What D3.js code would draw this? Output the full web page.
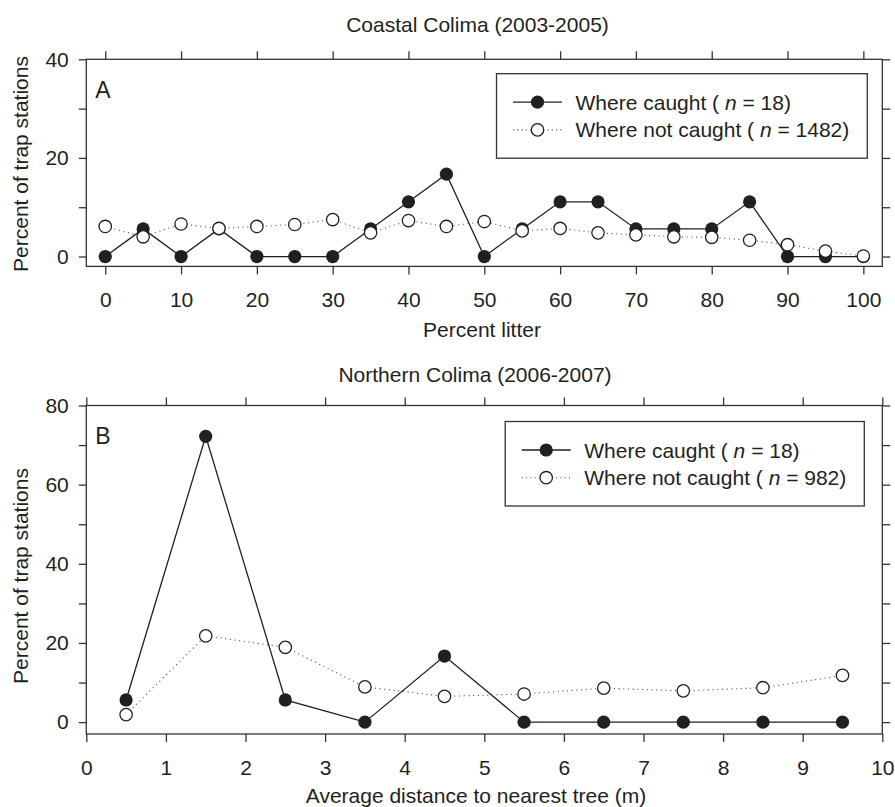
<!DOCTYPE html>
<html>
<head>
<meta charset="utf-8">
<script src="https://cdn.jsdelivr.net/npm/d3@7"></script>
<style>
  body { margin: 0; background: #fff; }
  svg { display: block; font-family: "Liberation Sans", Arial, Helvetica, sans-serif; }
</style>
</head>
<body>
<svg id="chart" width="895" height="807"></svg>
<script>
// panel A : percent litter
const litter = [0, 5, 10, 15, 20, 25, 30, 35, 40, 45, 50, 55, 60, 65, 70, 75, 80, 85, 90, 95, 100];
const litterCaught = [0, 5.6, 0, 5.6, 0, 0, 0, 5.6, 11.1, 16.7, 0, 5.6, 11.1, 11.1, 5.6, 5.6, 5.6, 11.1, 0, 0, 0];
const litterNotCaught = [6.1, 4.0, 6.6, 5.7, 6.1, 6.5, 7.5, 4.8, 7.3, 6.1, 7.1, 5.2, 5.7, 4.8, 4.4, 4.0, 3.9, 3.3, 2.4, 1.1, 0.1];
const litterTicks = [0, 10, 20, 30, 40, 50, 60, 70, 80, 90, 100];
const litterYTicks = [0, 10, 20, 30, 40];

// panel B : distance to nearest tree
const distance = [0.5, 1.5, 2.5, 3.5, 4.5, 5.5, 6.5, 7.5, 8.5, 9.5];
const distCaught = [5.6, 72.2, 5.6, 0, 16.7, 0, 0, 0, 0, 0];
const distNotCaught = [1.9, 21.8, 18.9, 8.9, 6.5, 7.1, 8.6, 7.9, 8.7, 11.8];
const distTicks = [0, 1, 2, 3, 4, 5, 6, 7, 8, 9, 10];
const distYTicks = [0, 10, 20, 30, 40, 50, 60, 70, 80];

const svg = d3.select("#chart");
const ink = "#231f20";
const tickLen = 8;

function drawPanel(p) {
  const x = d3.scaleLinear().domain(p.xDomain).range([86.3, 882.3]);
  const y = d3.scaleLinear().domain(p.yDomain).range(p.yRange);
  const g = svg.append("g");
  const [x0, x1] = x.range();
  const [yb, yt] = y.range();

  const label = d => (d % 20 === 0 ? d : "");

  // bottom axis (labelled)
  g.append("g")
      .attr("transform", `translate(0,${yb})`)
      .call(d3.axisBottom(x).tickValues(p.xTicks).tickSize(tickLen).tickPadding(18).tickSizeOuter(0))
      .call(a => a.select(".domain").remove());
  // left axis
  g.append("g")
      .attr("transform", `translate(${x0},0)`)
      .call(d3.axisLeft(y).tickValues(p.yTicks).tickFormat(label).tickSize(7.5).tickPadding(10).tickSizeOuter(0))
      .call(a => a.select(".domain").remove());
  // top and right ticks, no labels
  g.append("g")
      .attr("transform", `translate(0,${yt})`)
      .call(d3.axisTop(x).tickValues(p.xTicks).tickFormat("").tickSize(tickLen).tickSizeOuter(0))
      .call(a => a.select(".domain").remove());
  g.append("g")
      .attr("transform", `translate(${x1},0)`)
      .call(d3.axisRight(y).tickValues(p.yTicks).tickFormat("").tickSize(tickLen).tickSizeOuter(0))
      .call(a => a.select(".domain").remove());

  g.selectAll(".tick line").attr("stroke", "#333").attr("stroke-width", 1.3);
  g.selectAll(".tick text").attr("fill", ink).attr("font-size", 21).attr("font-family", null);

  g.append("rect")
      .attr("x", x0).attr("y", yt)
      .attr("width", x1 - x0).attr("height", yb - yt)
      .attr("fill", "none").attr("stroke", "#333").attr("stroke-width", 1.3);

  // titles
  g.append("text").attr("x", p.titleX).attr("y", yt - p.titleGap)
      .attr("text-anchor", "middle").attr("font-size", 21).attr("fill", ink).text(p.title);
  g.append("text").attr("x", p.xLabelX).attr("y", yb + p.xLabelGap)
      .attr("text-anchor", "middle").attr("font-size", 21).attr("fill", ink).text(p.xLabel);
  g.append("text")
      .attr("transform", `translate(28,${p.yLabelY}) rotate(-90)`)
      .attr("text-anchor", "middle").attr("font-size", 21).attr("fill", ink)
      .text("Percent of trap stations");
  g.append("text").attr("x", x0 + 9).attr("y", yt + 38.5)
      .attr("font-size", 23).attr("fill", ink).text(p.letter);

  // series
  const line = d3.line().x(d => x(d[0])).y(d => y(d[1]));
  const caught = d3.zip(p.xs, p.caught);
  const notCaught = d3.zip(p.xs, p.notCaught);

  g.append("path").datum(caught).attr("d", line)
      .attr("fill", "none").attr("stroke", ink).attr("stroke-width", 1.3);
  g.append("g").selectAll("circle").data(caught).join("circle")
      .attr("cx", d => x(d[0])).attr("cy", d => y(d[1])).attr("r", 6.6)
      .attr("fill", ink);

  g.append("path").datum(notCaught).attr("d", line)
      .attr("fill", "none").attr("stroke", "#555").attr("stroke-width", 1.1)
      .attr("stroke-dasharray", "1.1 3.6");
  g.append("g").selectAll("circle").data(notCaught).join("circle")
      .attr("cx", d => x(d[0])).attr("cy", d => y(d[1])).attr("r", 6.2)
      .attr("fill", "#fff").attr("stroke", ink).attr("stroke-width", 1.3);

  // legend
  const leg = g.append("g");
  const rows = [
    {n: p.nCaught, text: "Where caught ( ", filled: true},
    {n: p.nNot, text: "Where not caught ( ", filled: false}
  ];
  const texts = rows.map((r, i) => {
    const t = leg.append("text").attr("x", 62.5).attr("y", 28.5 + i * 27.7 + 7.5)
        .attr("font-size", 21).attr("fill", ink);
    t.append("tspan").text(r.text);
    t.append("tspan").attr("font-style", "italic").text("n");
    t.append("tspan").text(" = " + r.n + ")");
    const cy = 28.5 + i * 27.7;
    leg.append("line").attr("x1", 0).attr("x2", 49).attr("y1", cy).attr("y2", cy)
        .attr("stroke", r.filled ? ink : "#555").attr("stroke-width", r.filled ? 1.3 : 1.1)
        .attr("stroke-dasharray", r.filled ? null : "1.1 3.2");
    leg.append("circle").attr("cx", 24.5).attr("cy", cy).attr("r", r.filled ? 6.6 : 6.2)
        .attr("fill", r.filled ? ink : "#fff")
        .attr("stroke", r.filled ? null : ink).attr("stroke-width", 1.3);
    return t.node().getComputedTextLength();
  });
  const w = 62.5 + d3.max(texts) + 18 + 16.5;
  leg.insert("rect", ":first-child")
      .attr("x", -16.5).attr("y", 0).attr("width", w).attr("height", 28.5 + 27.7 + 28.3)
      .attr("fill", "#fff").attr("stroke", "#333").attr("stroke-width", 1.3);
  leg.attr("transform", `translate(${x1 - p.legRight - w + 16.5},${yt + p.legTop})`);
}

drawPanel({
  letter: "A",
  title: "Coastal Colima (2003-2005)",
  xLabel: "Percent litter",
  xs: litter, caught: litterCaught, notCaught: litterNotCaught,
  xTicks: litterTicks, yTicks: litterYTicks,
  xDomain: [-2.5, 102.5], yDomain: [-2, 40], yRange: [266.4, 59.3],
  titleX: 477.5, titleGap: 27.5, xLabelX: 482, xLabelGap: 70.5, yLabelY: 164,
  nCaught: 18, nNot: 1482, legRight: 15, legTop: 14.4
});

drawPanel({
  letter: "B",
  title: "Northern Colima (2006-2007)",
  xLabel: "Average distance to nearest tree (m)",
  xs: distance, caught: distCaught, notCaught: distNotCaught,
  xTicks: distTicks, yTicks: distYTicks,
  xDomain: [0, 10], yDomain: [-3, 80], yRange: [734, 405.5],
  titleX: 475, titleGap: 24, xLabelX: 476, xLabelGap: 68.5, yLabelY: 576,
  nCaught: 18, nNot: 982, legRight: 18, legTop: 16
});
</script>
</body>
</html>
